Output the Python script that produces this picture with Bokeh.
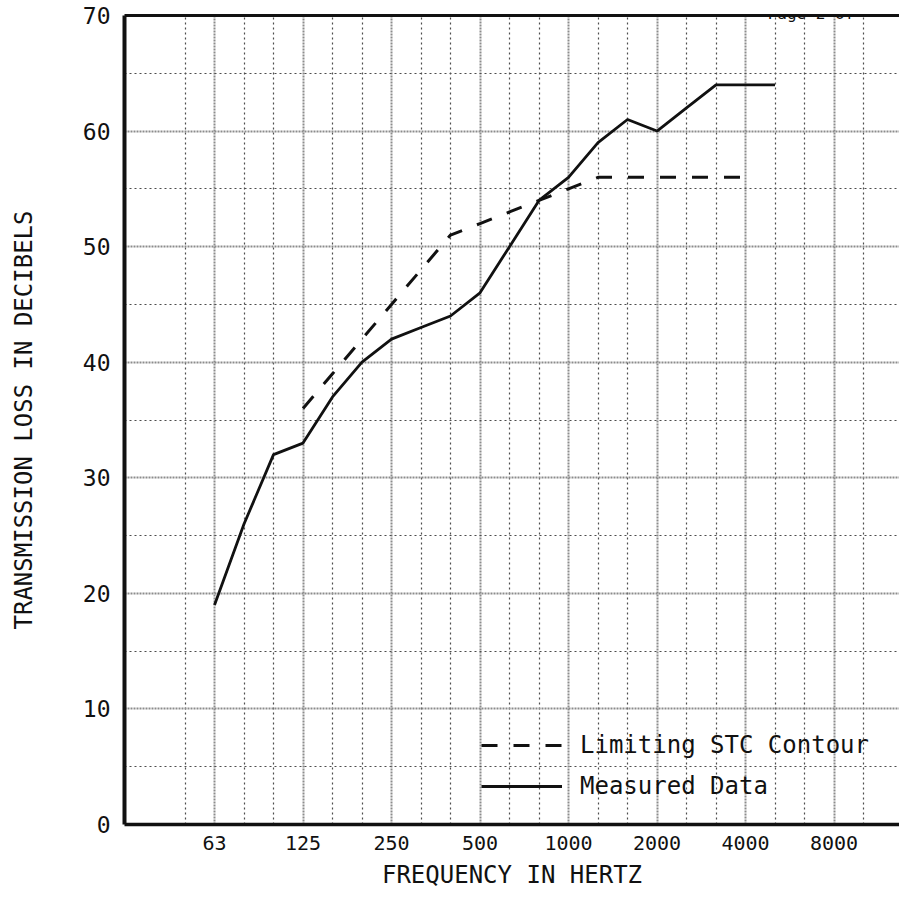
import numpy as np
from bokeh.plotting import figure
from bokeh.models import FixedTicker, Range1d, Legend, LegendItem, Label, LinearAxis, Grid
from bokeh.embed import file_html
from bokeh.resources import INLINE

# ---- data -------------------------------------------------------------
bands = ["50", "63", "80", "100", "125", "160", "200", "250", "315", "400",
         "500", "630", "800", "1000", "1250", "1600", "2000", "2500", "3150",
         "4000", "5000", "6300", "8000", "10000"]
octave_labels = ["63", "125", "250", "500", "1000", "2000", "4000", "8000"]

measured_bands = ["63", "80", "100", "125", "160", "200", "250", "315", "400",
                  "500", "630", "800", "1000", "1250", "1600", "2000", "2500",
                  "3150", "4000", "5000"]
measured_tl = [19, 26, 32, 33, 37, 40, 42, 43, 44, 46, 50, 54, 56, 59, 61, 60,
               62, 64, 64, 64]

stc_bands = ["125", "160", "200", "250", "315", "400", "500", "630", "800",
             "1000", "1250", "1600", "2000", "2500", "3150", "4000"]
stc_tl = [36, 39, 42, 45, 48, 51, 52, 53, 54, 55, 56, 56, 56, 56, 56, 56]

y_major = [0, 10, 20, 30, 40, 50, 60, 70]
y_minor = [5, 15, 25, 35, 45, 55, 65]

x_title = "FREQUENCY IN HERTZ"
y_title = "TRANSMISSION LOSS IN DECIBELS"
page_text = "Page 2 of"

# ---- positions via band index -----------------------------------------
pos = {b: i for i, b in enumerate(bands)}
x_meas = [pos[b] for b in measured_bands]
x_stc = [pos[b] for b in stc_bands]
oct_pos = [pos[b] for b in octave_labels]
minor_pos = [i for i in range(len(bands)) if i not in oct_pos]

FONT = "DejaVu Sans Mono"

p = figure(width=899, height=891, output_backend="svg", toolbar_location=None,
           x_range=Range1d(-2.051, 24.22), y_range=Range1d(0, 70),
           min_border_left=124, min_border_right=0, min_border_top=15,
           min_border_bottom=65, x_axis_type=None, y_axis_type=None)
p.outline_line_alpha = 0
p.background_fill_color = "white"
p.border_fill_color = "white"

# axes
xaxis = LinearAxis(ticker=FixedTicker(ticks=oct_pos, minor_ticks=minor_pos))
xaxis.major_label_overrides = {int(pv): lab for pv, lab in zip(oct_pos, octave_labels)}
xaxis.major_label_text_font = FONT
xaxis.major_label_text_font_size = "20px"
xaxis.major_label_text_color = "#111111"
xaxis.major_label_standoff = 11
xaxis.major_tick_out = 0
xaxis.major_tick_in = 0
xaxis.minor_tick_out = 0
xaxis.minor_tick_in = 0
xaxis.axis_line_width = 3.5
xaxis.axis_line_color = "#111111"
xaxis.axis_label = x_title
xaxis.axis_label_text_font = FONT
xaxis.axis_label_text_font_size = "24px"
xaxis.axis_label_text_font_style = "normal"
xaxis.axis_label_text_color = "#111111"
xaxis.axis_label_standoff = 8
p.add_layout(xaxis, "below")

yaxis = LinearAxis(ticker=FixedTicker(ticks=y_major, minor_ticks=y_minor))
yaxis.major_label_text_font = FONT
yaxis.major_label_text_font_size = "23px"
yaxis.major_label_text_color = "#111111"
yaxis.major_label_standoff = 14
yaxis.major_tick_out = 0
yaxis.major_tick_in = 0
yaxis.minor_tick_out = 0
yaxis.minor_tick_in = 0
yaxis.axis_line_width = 4
yaxis.axis_line_color = "#111111"
yaxis.axis_label = y_title
yaxis.axis_label_text_font = FONT
yaxis.axis_label_text_font_size = "24px"
yaxis.axis_label_text_font_style = "normal"
yaxis.axis_label_text_color = "#111111"
yaxis.axis_label_standoff = 42
p.add_layout(yaxis, "left")

top = LinearAxis(ticker=FixedTicker(ticks=[]), major_tick_out=0, major_tick_in=0,
                 minor_tick_out=0, minor_tick_in=0, axis_line_width=3,
                 axis_line_color="#111111", major_label_text_alpha=0)
p.add_layout(top, "above")

# grids
xgrid = Grid(dimension=0, ticker=xaxis.ticker,
             grid_line_color="#8c8c8c", grid_line_width=2, grid_line_dash="2 1",
             minor_grid_line_color="#4d4d4d", minor_grid_line_width=1.2,
             minor_grid_line_dash="2 3")
ygrid = Grid(dimension=1, ticker=yaxis.ticker,
             grid_line_color="#8c8c8c", grid_line_width=2, grid_line_dash="2 1",
             minor_grid_line_color="#4d4d4d", minor_grid_line_width=1.2,
             minor_grid_line_dash="2 3")
p.add_layout(xgrid)
p.add_layout(ygrid)

# data lines
r_stc = p.line(x_stc, stc_tl, line_color="#111111", line_width=3,
               line_dash="16 16")
r_meas = p.line(x_meas, measured_tl, line_color="#111111", line_width=2.8)

legend = Legend(items=[LegendItem(label="Limiting STC Contour", renderers=[r_stc]),
                       LegendItem(label="Measured Data", renderers=[r_meas])],
                location=(357, 24), orientation="vertical",
                glyph_width=81, glyph_height=28, label_height=28,
                label_standoff=18, spacing=13, padding=0, margin=0,
                label_text_font=FONT, label_text_font_size="24px",
                label_text_color="#111111",
                border_line_alpha=0, background_fill_alpha=0)
p.add_layout(legend, "center")

page = Label(x=19.75, y=70.17, text=page_text, text_font=FONT,
             text_font_size="16px", text_color="#111111",
             text_baseline="alphabetic", text_align="left")
p.add_layout(page)

open("out.html", "w").write(file_html(p, INLINE))
